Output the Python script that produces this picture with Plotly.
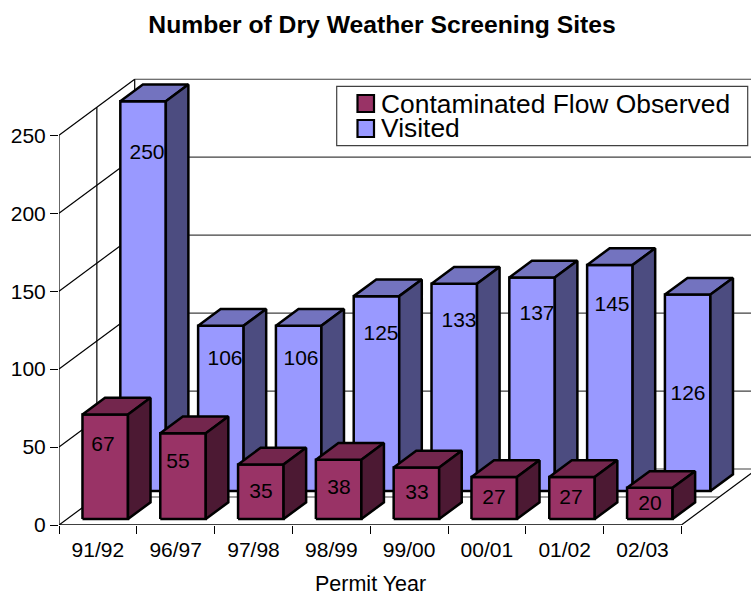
import plotly.graph_objects as go

categories = ["91/92", "96/97", "97/98", "98/99", "99/00", "00/01", "01/02", "02/03"]
visited = [250, 106, 106, 125, 133, 137, 145, 126]
contaminated = [67, 55, 35, 38, 33, 27, 27, 20]
y_ticks = [0, 50, 100, 150, 200, 250]

W, H = 751, 596
L_PX, Y0_PX = 59.0, 525.0
CAT_PX, VAL_PX = 77.8, 1.559
TOP_PX = 60.0

FONT = "Liberation Sans, Arial, sans-serif"

# oblique depth of the 3D box, in axis units
DX = 75.7 / CAT_PX
DY = 56.0 / VAL_PX
HALF_W = 0.2924
ROW_D = {"front": 0.107, "back": 0.607}
BAR_D = 0.298
XMIN = -0.5
XMAX = XMIN + (W - L_PX) / CAT_PX
YMAX = (Y0_PX - TOP_PX) / VAL_PX
XEND = XMIN + len(categories)


def px_x(p):
    return XMIN + (p - L_PX) / CAT_PX


def px_y(p):
    return (Y0_PX - p) / VAL_PX


def paper_x(p):
    return (p - L_PX) / (W - L_PX)


def paper_y(p):
    return (Y0_PX - p) / (Y0_PX - TOP_PX)


def faces(values, row):
    d = ROW_D[row]
    fx, fy, tx, ty, sx, sy = [], [], [], [], [], []
    for i, v in enumerate(values):
        c = i + DX * d - 0.01
        a, b = c - HALF_W, c + HALF_W
        base = DY * d
        top = base + v
        ox, oy = DX * BAR_D, DY * BAR_D
        fx += [a, b, b, a, a, None]
        fy += [base, base, top, top, base, None]
        tx += [a, b, b + ox, a + ox, a, None]
        ty += [top, top, top + oy, top + oy, top, None]
        sx += [b, b + ox, b + ox, b, b, None]
        sy += [base, base + oy, top + oy, top, base, None]
    return (fx, fy), (tx, ty), (sx, sy)


def line(xs, ys, color="black", width=1.2):
    return go.Scatter(x=xs, y=ys, mode="lines", line=dict(color=color, width=width),
                      showlegend=False, hoverinfo="skip", cliponaxis=False)


def poly(xy, fill):
    return go.Scatter(x=xy[0], y=xy[1], mode="lines", fill="toself", fillcolor=fill,
                      line=dict(color="black", width=2.5), showlegend=False,
                      hoverinfo="skip", cliponaxis=False)


fig = go.Figure()

# back-wall gridlines
for v in y_ticks:
    fig.add_trace(line([XMIN + DX, XEND + DX], [v + DY, v + DY], "#404040"))
# left-wall gridlines
for v in y_ticks:
    fig.add_trace(line([XMIN, XMIN + DX], [v, v + DY], "black"))
# walls and floor frame
top = y_ticks[-1]
fig.add_trace(line([XMIN + DX / 2] * 2, [DY / 2, top + DY / 2]))
fig.add_trace(line([XMIN + DX] * 2, [DY, top + DY]))
fig.add_trace(line([XMIN] * 2, [0, top]))
fig.add_trace(line([XMIN + DX / 2, XEND + DX / 2], [DY / 2, DY / 2], "#808080", 1.6))
fig.add_trace(line([XEND, XEND + DX], [0, DY]))
fig.add_trace(line([XMIN, XEND], [0, 0], "black", 1.6))

# series
v_faces = faces(visited, "back")
c_faces = faces(contaminated, "front")
for xy, color in zip(v_faces, ["#9999FF", "#7373BF", "#4C4C80"]):
    fig.add_trace(poly(xy, color))
for xy, color in zip(c_faces, ["#993366", "#73264D", "#4C1933"]):
    fig.add_trace(poly(xy, color))

# data labels (hand-placed in the original chart)
v_label_px = [(147, 153.5), (225, 359.5), (301, 359.5), (381, 334.5), (459, 321.5), (537, 314.5), (612, 305.5), (688, 394.5)]
c_label_px = [(103, 445.5), (178, 462.5), (261, 492.5), (339, 488.5), (417, 493.5), (494, 498.5), (571, 498.5), (650, 504.5)]
for vals, pos in ((visited, v_label_px), (contaminated, c_label_px)):
    fig.add_trace(go.Scatter(
        x=[px_x(p[0]) for p in pos], y=[px_y(p[1]) for p in pos],
        mode="text", text=[str(v) for v in vals], textposition="middle center",
        textfont=dict(family=FONT, size=21, color="black"),
        showlegend=False, hoverinfo="skip", cliponaxis=False))

shapes = [dict(type="rect", xref="paper", yref="paper",
               x0=paper_x(336.7), x1=paper_x(747.7), y0=paper_y(145.7), y1=paper_y(86.3),
               line=dict(color="#404040", width=1.2), fillcolor="white", layer="above")]
annotations = []
legend_items = [("Contaminated Flow Observed", "#993366", 95, 104), ("Visited", "#9999FF", 120, 128)]
for name, color, sw_top, text_y in legend_items:
    shapes.append(dict(type="rect", xref="paper", yref="paper",
                       x0=paper_x(357.5), x1=paper_x(374), y0=paper_y(sw_top + 17), y1=paper_y(sw_top),
                       line=dict(color="black", width=2.2), fillcolor=color, layer="above"))
    annotations.append(dict(xref="paper", yref="paper", x=paper_x(379), y=paper_y(text_y),
                            xanchor="left", yanchor="middle", showarrow=False, text=name, height=24,
                            font=dict(family=FONT, size=26.4, color="black")))
annotations.append(dict(xref="x", yref="paper", x=(len(categories) - 1) / 2, y=paper_y(583.5),
                        xanchor="center", yanchor="middle", showarrow=False, text="Permit Year",
                        font=dict(family=FONT, size=21.5, color="black")))

fig.update_layout(
    width=W, height=H, autosize=False,
    margin=dict(l=L_PX, r=0, t=TOP_PX, b=H - Y0_PX, pad=0),
    plot_bgcolor="white", paper_bgcolor="white",
    showlegend=False,
    title=dict(text="<b>Number of Dry Weather Screening Sites</b>", x=382 / W, y=1 - 24 / H,
               xanchor="center", yanchor="middle",
               font=dict(family=FONT, size=24.7, color="black")),
    shapes=shapes, annotations=annotations,
    xaxis=dict(range=[XMIN, XMAX], tickmode="array", tickvals=list(range(len(categories))),
               ticktext=categories, ticks="outside", ticklen=6, tickcolor="rgba(0,0,0,0)",
               showgrid=False, zeroline=False, showline=False,
               tickfont=dict(family=FONT, size=21, color="black"),
               minor=dict(tickmode="array", tickvals=[i - 0.5 for i in range(len(categories) + 1)],
                          ticks="outside", ticklen=8, tickcolor="black", tickwidth=1.2, showgrid=False)),
    yaxis=dict(range=[0, YMAX], tickmode="array", tickvals=y_ticks,
               ticks="outside", ticklen=8, tickcolor="black", tickwidth=1.2,
               showgrid=False, zeroline=False, showline=False,
               tickfont=dict(family=FONT, size=21, color="black")),
)

fig.write_html("out.html", config={"displayModeBar": False},
               post_script="document.body.style.margin='0';document.documentElement.style.overflow='hidden';")
